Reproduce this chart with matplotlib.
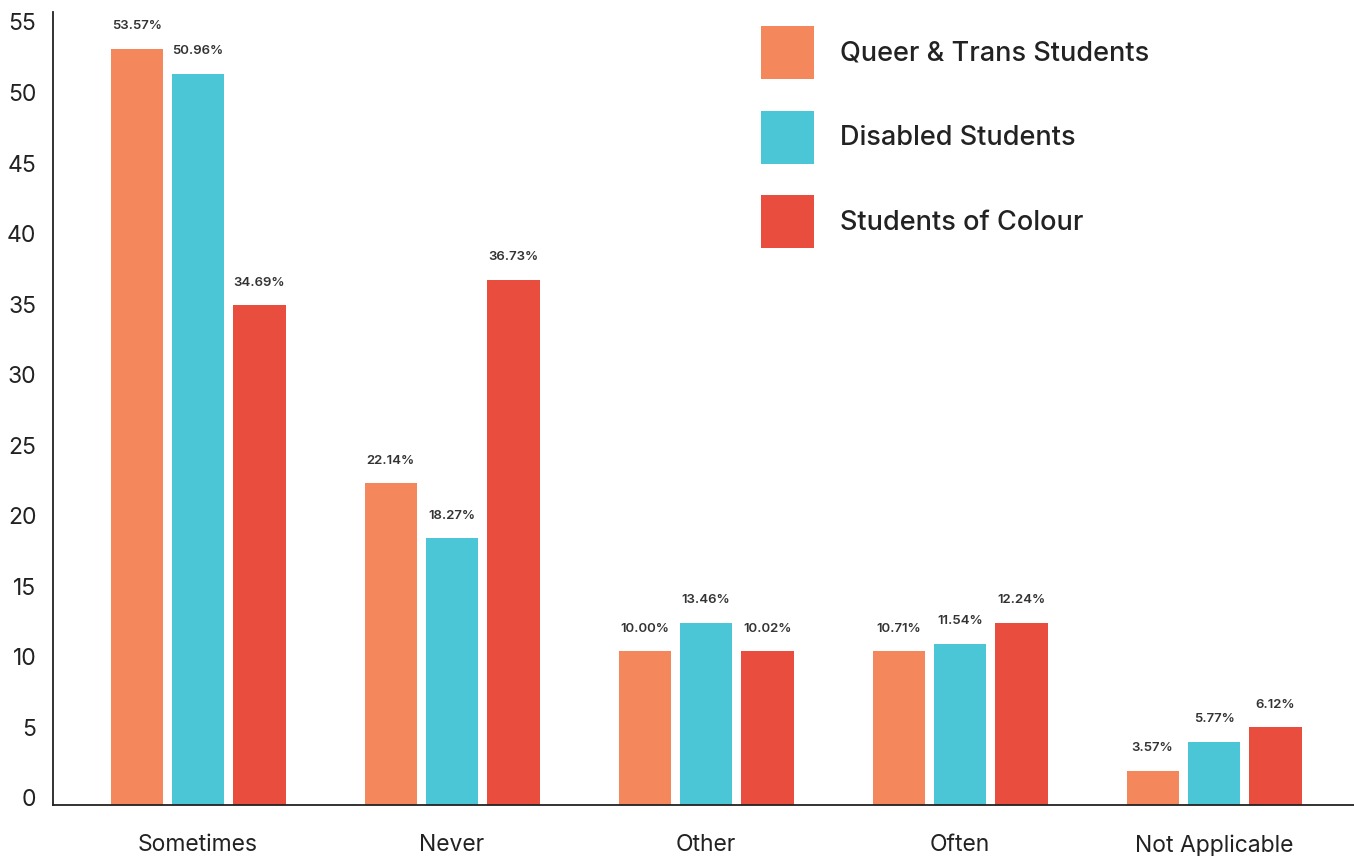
import numpy as np
import matplotlib.pyplot as plt
import matplotlib.transforms as mtransforms

categories = ['Sometimes', 'Never', 'Other', 'Often', 'Not Applicable']
series = ['Queer & Trans Students', 'Disabled Students', 'Students of Colour']

# bar heights as drawn in the reference
queer_trans = [53.6, 22.8, 10.9, 10.9, 2.4]
disabled = [51.8, 18.9, 12.9, 11.4, 4.5]
colour = [35.4, 37.2, 10.9, 12.9, 5.5]

# printed value labels
queer_trans_lbl = ['53.57%', '22.14%', '10.00%', '10.71%', '3.57%']
disabled_lbl = ['50.96%', '18.27%', '13.46%', '11.54%', '5.77%']
colour_lbl = ['34.69%', '36.73%', '10.02%', '12.24%', '6.12%']

colors = ['#F5875D', '#4BC6D6', '#E84D3E']
text_col = '#222222'

plt.rcParams['font.family'] = ['Inter', 'DejaVu Sans']

fig = plt.figure(figsize=(13.54, 8.56), dpi=100)
ax = fig.add_axes([53 / 1354, 51 / 856, 1 - 53 / 1354, (805 - 12) / 856])

x = np.arange(len(categories))
width = 0.205
step = 0.242

for i, (vals, lbls) in enumerate(zip([queer_trans, disabled, colour],
                                     [queer_trans_lbl, disabled_lbl, colour_lbl])):
    pos = x + (i - 1) * step
    bars = ax.bar(pos, vals, width, color=colors[i], label=series[i], zorder=2)
    for b, t in zip(bars, lbls):
        ax.annotate(t, (b.get_x() + b.get_width() / 2, b.get_height()),
                    xytext=(0, 12), textcoords='offset points',
                    ha='center', va='bottom', fontsize=9.5,
                    fontweight='semibold', color='#333333')

ax.set_xlim(-0.571, 4.551)
ax.set_ylim(0, 56.2)
ax.set_yticks(np.arange(0, 56, 5))
ax.set_xticks(x)
ax.set_xticklabels(categories)

ax.tick_params(axis='both', length=0, colors=text_col)
ax.tick_params(axis='y', labelsize=16.5, pad=12)
ax.tick_params(axis='x', labelsize=16.5, pad=21)

# shift y tick labels up a bit like the original
off = mtransforms.ScaledTranslation(0, 7 / 100, fig.dpi_scale_trans)
for lab in ax.get_yticklabels():
    lab.set_transform(lab.get_transform() + off)

for s in ['top', 'right']:
    ax.spines[s].set_visible(False)
for s in ['left', 'bottom']:
    ax.spines[s].set_color(text_col)
    ax.spines[s].set_linewidth(1.3)

fs = 19.5
hl = 38.0 / fs  # square handle about 53 px
hh = (hl - 0.245) / 0.65
leg = ax.legend(loc='upper left', bbox_to_anchor=(761 / 1354, 1 - 26 / 856),
                bbox_transform=fig.transFigure, frameon=False, fontsize=fs,
                borderpad=0, borderaxespad=0, handlelength=hl,
                handleheight=hh, handletextpad=0.95, labelspacing=1.18)
for t in leg.get_texts():
    t.set_color(text_col)
    t.set_fontweight('medium')

plt.savefig('out.png', dpi=100)
